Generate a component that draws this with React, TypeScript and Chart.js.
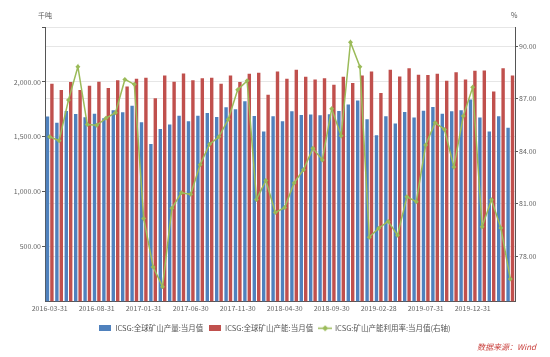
import React, { useEffect, useRef } from "react";
import { Chart, registerables } from "chart.js";

Chart.register(...registerables);

const categories = [
  "2016-03-31", "2016-04-30", "2016-05-31", "2016-06-30", "2016-07-31", "2016-08-31", "2016-09-30", "2016-10-31", "2016-11-30", "2016-12-31",
  "2017-01-31", "2017-02-28", "2017-03-31", "2017-04-30", "2017-05-31", "2017-06-30", "2017-07-31", "2017-08-31", "2017-09-30", "2017-10-31",
  "2017-11-30", "2017-12-31", "2018-01-31", "2018-02-28", "2018-03-31", "2018-04-30", "2018-05-31", "2018-06-30", "2018-07-31", "2018-08-31",
  "2018-09-30", "2018-10-31", "2018-11-30", "2018-12-31", "2019-01-31", "2019-02-28", "2019-03-31", "2019-04-30", "2019-05-31", "2019-06-30",
  "2019-07-31", "2019-08-31", "2019-09-30", "2019-10-31", "2019-11-30", "2019-12-31", "2020-01-31", "2020-02-29", "2020-03-31", "2020-04-30",
];

const production = [
  1685, 1627, 1735, 1708, 1678, 1711, 1669, 1741, 1723, 1782,
  1633, 1435, 1570, 1612, 1692, 1642, 1692, 1717, 1681, 1768,
  1750, 1824, 1690, 1549, 1687, 1642, 1732, 1699, 1702, 1696,
  1705, 1735, 1795, 1830, 1660, 1513, 1687, 1621, 1726, 1675,
  1737, 1771, 1711, 1732, 1741, 1839, 1675, 1549, 1687, 1582,
];

const capacity = [
  1984, 1927, 1999, 1927, 1966, 2002, 1944, 2016, 1957, 2028,
  2038, 1852, 2059, 2002, 2077, 2016, 2034, 2038, 1984, 2059,
  1999, 2074, 2083, 1882, 2095, 2028, 2110, 2047, 2022, 2034,
  1975, 2047, 1990, 2059, 2095, 1900, 2110, 2050, 2125, 2065,
  2062, 2074, 2011, 2089, 2022, 2101, 2104, 1912, 2125, 2059,
];

const utilization = [
  84.82, 84.6, 86.93, 88.83, 85.52, 85.48, 85.89, 86.2, 88.1, 87.82,
  80.15, 77.38, 76.25, 80.73, 81.62, 81.53, 83.22, 84.39, 84.82, 85.82,
  87.51, 88.02, 81.24, 82.32, 80.49, 80.77, 82.18, 82.94, 84.16, 83.5,
  86.42, 84.88, 90.23, 88.83, 79.08, 79.59, 79.98, 79.19, 81.39, 81.11,
  84.35, 85.63, 85.24, 83.09, 86.01, 87.65, 79.68, 81.22, 79.6, 76.69,
];

const leftTicks = [500, 1000, 1500, 2000, 2500];
const rightTicks = [78, 81, 84, 87, 90];

const seriesNames = [
  "ICSG:全球矿山产量:当月值",
  "ICSG:全球矿山产能:当月值",
  "ICSG:矿山产能利用率:当月值(右轴)",
];

const BLUE = "#4F81BD";
const RED = "#C0504D";
const GREEN = "#9BBB59";
const FONT = "'Noto Sans CJK SC', 'Liberation Sans', sans-serif";

function boxIcon(color: string) {
  const c = document.createElement("canvas");
  c.width = 12;
  c.height = 6;
  const ctx = c.getContext("2d")!;
  ctx.fillStyle = color;
  ctx.fillRect(0, 0, 12, 6);
  return c;
}

function lineIcon(color: string) {
  const c = document.createElement("canvas");
  c.width = 14;
  c.height = 7;
  const ctx = c.getContext("2d")!;
  ctx.strokeStyle = color;
  ctx.lineWidth = 1.5;
  ctx.beginPath();
  ctx.moveTo(0, 3.5);
  ctx.lineTo(14, 3.5);
  ctx.stroke();
  ctx.fillStyle = color;
  ctx.beginPath();
  ctx.moveTo(7, 0.5);
  ctx.lineTo(10, 3.5);
  ctx.lineTo(7, 6.5);
  ctx.lineTo(4, 3.5);
  ctx.closePath();
  ctx.fill();
  return c;
}

export default function App() {
  const ref = useRef<HTMLCanvasElement | null>(null);

  useEffect(() => {
    if (!ref.current) return;
    const icons = [boxIcon(BLUE), boxIcon(RED), lineIcon(GREEN)];
    const chart = new Chart(ref.current, {
      type: "bar",
      data: {
        labels: categories,
        datasets: [
          {
            type: "bar",
            label: seriesNames[0],
            data: production,
            backgroundColor: BLUE,
            yAxisID: "y",
            order: 1,
            categoryPercentage: 0.94,
            barPercentage: 0.77,
          },
          {
            type: "bar",
            label: seriesNames[1],
            data: capacity,
            backgroundColor: RED,
            yAxisID: "y",
            order: 1,
            categoryPercentage: 0.94,
            barPercentage: 0.77,
          },
          {
            type: "line",
            label: seriesNames[2],
            data: utilization,
            borderColor: GREEN,
            backgroundColor: GREEN,
            borderWidth: 1.5,
            pointStyle: "rectRot",
            pointRadius: 2.5,
            pointBorderWidth: 0,
            tension: 0,
            yAxisID: "y1",
            order: 0,
          },
        ],
      } as any,
      options: {
        animation: false,
        responsive: false,
        maintainAspectRatio: false,
        layout: { padding: { top: 27, left: 0, right: 0, bottom: 15 } },
        plugins: {
          tooltip: { enabled: false },
          legend: {
            position: "bottom",
            labels: {
              usePointStyle: true,
              pointStyleWidth: 12,
              padding: 6,
              color: "#555",
              font: { size: 7.5, family: FONT },
              generateLabels: (ch: any) =>
                ch.data.datasets.map((ds: any, i: number) => ({
                  text: ds.label,
                  pointStyle: icons[i],
                  fillStyle: "transparent",
                  strokeStyle: "transparent",
                  lineWidth: 0,
                  fontColor: "#555",
                  hidden: false,
                  datasetIndex: i,
                })),
            },
          },
        },
        scales: {
          x: {
            type: "category",
            offset: true,
            afterFit: (s: any) => {
              s.height = 17;
            },
            grid: { display: false, drawTicks: false },
            border: { display: true, color: "#555", width: 1 },
            ticks: {
              autoSkip: false,
              maxRotation: 0,
              minRotation: 0,
              padding: 3,
              color: "#666",
              font: { size: 7, family: FONT },
              callback: (_v: any, i: number) => (i % 5 === 0 ? categories[i] : ""),
            },
          },
          y: {
            type: "linear",
            position: "left",
            min: 0,
            max: 2500,
            afterFit: (s: any) => {
              s.width = 45;
            },
            afterBuildTicks: (s: any) => {
              s.ticks = leftTicks.map((v) => ({ value: v }));
            },
            grid: { color: "#E6E6E6", lineWidth: 1, drawTicks: true, tickLength: 3, tickColor: "#555" },
            border: { display: true, color: "#555", width: 1 },
            ticks: {
              padding: 1,
              color: "#666",
              font: { size: 7, family: FONT },
              callback: (v: any) =>
                v >= 2500
                  ? ""
                  : Number(v).toLocaleString("en-US", { minimumFractionDigits: 2, maximumFractionDigits: 2 }),
            },
          },
          y1: {
            type: "linear",
            position: "right",
            min: 75.4,
            max: 91.1,
            afterFit: (s: any) => {
              s.width = 35;
            },
            afterBuildTicks: (s: any) => {
              s.ticks = rightTicks.map((v) => ({ value: v }));
            },
            grid: { color: "#E6E6E6", lineWidth: 1, drawTicks: true, tickLength: 3, tickColor: "#555" },
            border: { display: true, color: "#555", width: 1 },
            ticks: {
              padding: 1,
              color: "#666",
              font: { size: 7, family: FONT },
              callback: (v: any) => Number(v).toFixed(2),
            },
          },
        },
      } as any,
    });
    return () => chart.destroy();
  }, []);

  return (
    <div style={{ position: "fixed", left: 0, top: 0, width: 550, height: 357, background: "#fff" }}>
      <canvas ref={ref} width={550} height={357} style={{ display: "block", width: 550, height: 357 }} />
      <div
        style={{
          position: "absolute",
          left: 38,
          top: 10,
          fontSize: 7,
          color: "#555",
          fontFamily: FONT,
          lineHeight: "10px",
        }}
      >
        千吨
      </div>
      <div
        style={{
          position: "absolute",
          left: 511,
          top: 10,
          fontSize: 7,
          color: "#555",
          fontFamily: FONT,
          lineHeight: "10px",
        }}
      >
        %
      </div>
      <div
        style={{
          position: "absolute",
          right: 14,
          top: 342,
          fontSize: 8,
          color: "#C9403D",
          fontStyle: "italic",
          fontFamily: FONT,
          lineHeight: "10px",
        }}
      >
        数据来源：Wind
      </div>
    </div>
  );
}
